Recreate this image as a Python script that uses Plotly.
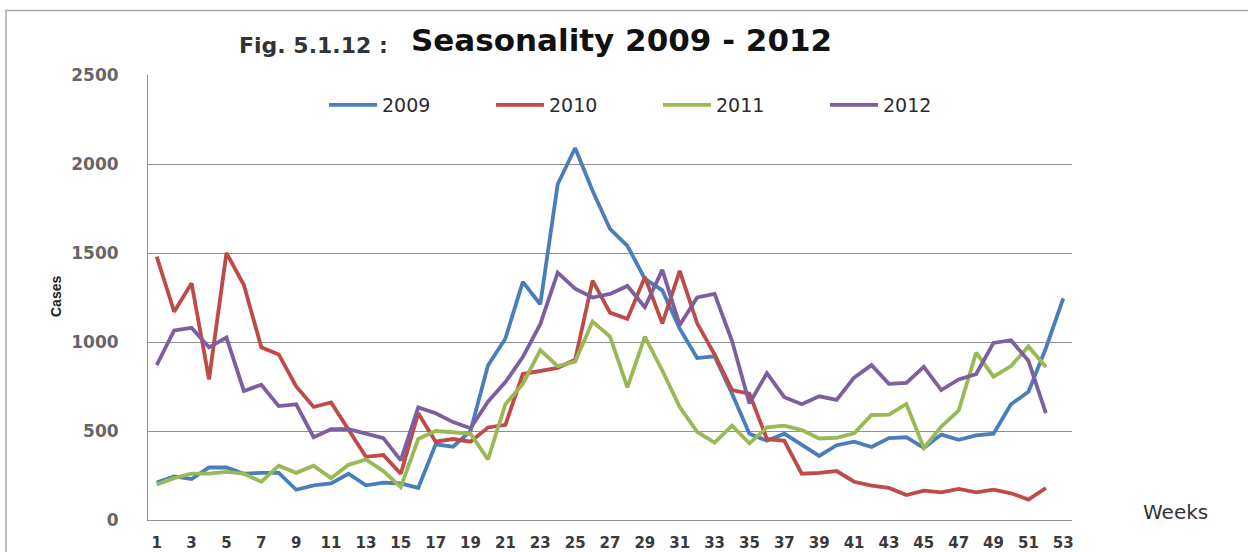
import plotly.graph_objects as go

# Weekly case counts per year
weeks = list(range(1, 54))
tick_weeks = list(range(1, 54, 2))

cases_2009 = [210, 245, 230, 295, 295, 260, 265, 265, 170, 195,
              205, 260, 195, 210, 205, 180, 425, 412, 500, 868,
              1020, 1338, 1212, 1886, 2090, 1850, 1635, 1540, 1355, 1290,
              1075, 910, 920, 710, 485, 445, 485, 420, 360, 420,
              440, 410, 460, 465, 405, 480, 450, 475, 485, 650,
              720, 965, 1245]
cases_2010 = [1480, 1170, 1330, 790, 1500, 1320, 970, 930, 750, 635,
              660, 505, 355, 365, 260, 600, 440, 455, 440, 520,
              535, 820, 835, 855, 900, 1345, 1165, 1130, 1365, 1105,
              1400, 1105, 930, 730, 710, 455, 445, 260, 265, 275,
              215, 193, 180, 140, 165, 155, 175, 155, 170, 150,
              115, 180]
cases_2011 = [200, 235, 260, 260, 270, 260, 215, 305, 265, 305,
              235, 310, 340, 275, 185, 455, 500, 495, 485, 340,
              650, 765, 955, 865, 890, 1115, 1030, 745, 1030, 840,
              635, 495, 435, 530, 430, 520, 530, 505, 458, 462,
              487, 590, 592, 652, 405, 525, 615, 940, 805, 865,
              975, 860]
cases_2012 = [870, 1065, 1080, 970, 1025, 725, 760, 640, 650, 465,
              510, 510, 485, 460, 335, 632, 600, 550, 515, 665,
              775, 915, 1100, 1390, 1300, 1250, 1270, 1315, 1195, 1405,
              1095, 1250, 1270, 1005, 655, 825, 690, 650, 695, 675,
              800, 870, 765, 770, 860, 730, 790, 820, 995, 1010,
              895, 600]

series = [
    ("2009", cases_2009, "#4a7ebb"),
    ("2010", cases_2010, "#be4b48"),
    ("2011", cases_2011, "#98b954"),
    ("2012", cases_2012, "#7d5fa0"),
]

# Plot-area geometry in pixels (used to place decorations in paper coordinates)
W, H = 1248, 552
L, R, T, B = 148, 1072, 75, 520


def px(x):
    return (x - L) / (R - L)


def py(y):
    return (B - y) / (B - T)


fig = go.Figure()
for name, vals, color in series:
    fig.add_trace(go.Scatter(
        x=weeks[:len(vals)], y=vals, name=name, mode="lines",
        line=dict(color=color, width=3.8),
    ))

grid = "#8e8e8e"
fig.update_layout(
    width=W, height=H,
    margin=dict(l=L, r=W - R, t=T, b=H - B, pad=0, autoexpand=False),
    paper_bgcolor="white", plot_bgcolor="white",
    showlegend=True,
    legend=dict(
        orientation="h", x=px(324), xanchor="left", y=py(105), yanchor="middle",
        entrywidth=104, entrywidthmode="pixels", itemwidth=48,
        font=dict(family="DejaVu Sans, Verdana, sans-serif", size=19, color="#2b2b2b"),
        bgcolor="rgba(0,0,0,0)", tracegroupgap=0,
    ),
    xaxis=dict(
        range=[0.5, 53.5], tickmode="array", tickvals=tick_weeks,
        ticktext=[str(w) for w in tick_weeks],
        showgrid=False, zeroline=False, showline=True, linecolor=grid, linewidth=1,
        ticks="", ticklabelstandoff=9, automargin=False,
        tickfont=dict(family="DejaVu Sans, Verdana, sans-serif", size=15, color="#3a3a3a", weight="bold"),
        fixedrange=True,
    ),
    yaxis=dict(
        range=[0, 2500], tickmode="array", tickvals=[0, 500, 1000, 1500, 2000, 2500],
        showgrid=True, gridcolor=grid, gridwidth=1, zeroline=False,
        showline=True, linecolor=grid, linewidth=1,
        ticks="", ticklabelstandoff=25, automargin=False,
        tickfont=dict(family="DejaVu Sans, Verdana, sans-serif", size=17, color="#666666", weight="bold"),
        fixedrange=True,
    ),
)

# Outer frame of the figure
fig.add_shape(type="rect", xref="paper", yref="paper",
              x0=px(6), x1=px(W + 20), y0=py(H + 20), y1=py(10.5),
              line=dict(color="#a6a6a6", width=1.5), fillcolor="rgba(0,0,0,0)", layer="below")

# Title in two parts
fig.add_annotation(xref="paper", yref="paper", x=px(237), y=py(45),
                   xanchor="left", yanchor="middle", showarrow=False,
                   text="Fig. 5.1.12 :",
                   font=dict(family="DejaVu Sans, sans-serif", size=22, color="#333333", weight="bold"))
fig.add_annotation(xref="paper", yref="paper", x=px(409), y=py(40),
                   xanchor="left", yanchor="middle", showarrow=False,
                   text="Seasonality 2009 - 2012",
                   font=dict(family="DejaVu Sans, sans-serif", size=31, color="#111111", weight="bold"))

# Axis titles
fig.add_annotation(xref="paper", yref="paper", x=px(56), y=py(297),
                   xanchor="center", yanchor="middle", showarrow=False, textangle=-90,
                   text="Cases",
                   font=dict(family="Liberation Sans Narrow, Liberation Sans, Arial, sans-serif",
                             size=14, color="#222222", weight="bold"))
fig.add_annotation(xref="paper", yref="paper", x=px(1175), y=py(512),
                   xanchor="center", yanchor="middle", showarrow=False,
                   text="Weeks",
                   font=dict(family="DejaVu Sans, sans-serif", size=20, color="#333333"))

fig.write_html("out.html", config={"displayModeBar": False})
